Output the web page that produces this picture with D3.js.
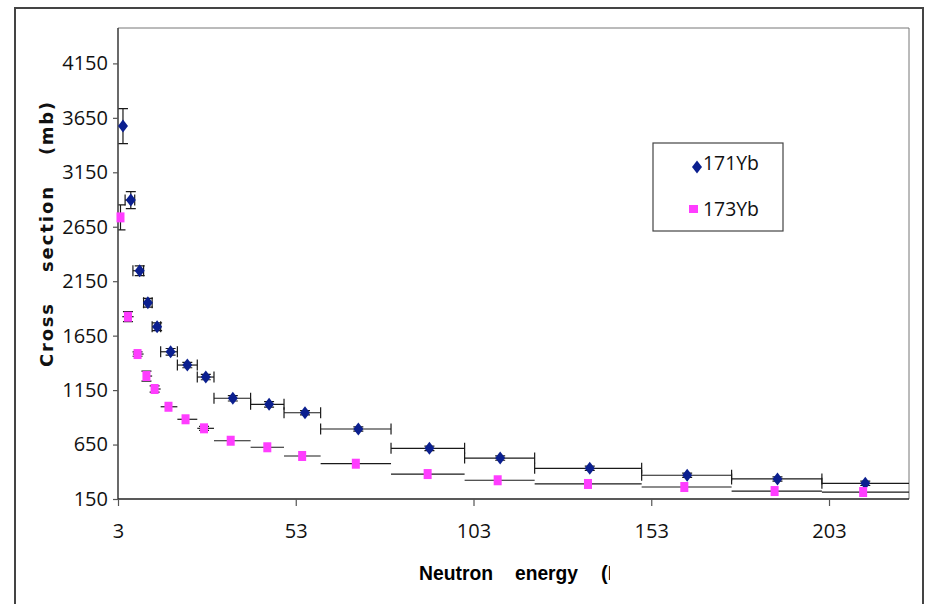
<!DOCTYPE html>
<html>
<head>
<meta charset="utf-8">
<script src="https://cdn.jsdelivr.net/npm/d3@7"></script>
<style>
  body { margin: 0; background: #fff; }
  svg { display: block; }
</style>
</head>
<body>
<script>
// 171Yb: energy (centroid), cross section, error, energy bin edges
const energy171 = [4.4, 6.6, 9.1, 11.4, 14.0, 17.8, 22.5, 27.7, 35.3, 45.5, 55.6, 70.6, 90.6, 110.5, 135.7, 163.1, 188.5, 213.2]
const sigma171 = [3574, 2895, 2246, 1952, 1732, 1502, 1380, 1270, 1075, 1019, 942, 793, 615, 526, 432, 368, 334, 294]
const err171 = [160, 78, 45, 40, 35, 30, 25, 25, 25, 25, 20, 20, 20, 20, 20, 20, 20, 20]
const binLo171 = [null, 5, 7.2, 10.2, 12.6, 15, 19.7, 25.3, 30, 40.3, 49.7, 60, 79.8, 100.5, 120.2, 150.3, 175.6, 201]
const binHi171 = [null, 7.7, 10.2, 12.6, 15, 19.7, 25.3, 30, 40.3, 49.7, 60, 79.8, 100.5, 120.2, 150.3, 175.6, 201, 226]

// 173Yb
const energy173 = [3.7, 5.8, 8.5, 11.0, 13.3, 17.2, 22.0, 27.2, 34.7, 45.0, 54.8, 69.9, 90.1, 109.8, 135.2, 162.3, 187.7, 212.6]
const sigma173 = [2736, 1824, 1481, 1279, 1160, 997, 882, 799, 685, 625, 545, 474, 379, 322, 288, 260, 223, 214]
const err173 = [115, 46, 20, 46, 28, 0, 0, 18, 0, 0, 0, 0, 0, 0, 0, 0, 0, 0]
const binLo173 = [null, 4.2, 7.2, 10.2, 12.6, 15, 19.7, 25.3, 30, 40.3, 49.7, 60, 79.8, 100.5, 120.2, 150.3, 175.6, 201]
const binHi173 = [null, 7.4, 10.2, 12.6, 15, 19.7, 25.3, 30, 40.3, 49.7, 60, 79.8, 100.5, 120.2, 150.3, 175.6, 201, 226]

const xTicks = [3, 53, 103, 153, 203]
const yTicks = [150, 650, 1150, 1650, 2150, 2650, 3150, 3650, 4150]
const seriesNames = ["171Yb", "173Yb"]

var w = 926
var h = 604
var pLeft = 118, pRight = 909, pTop = 28, pBottom = 499

var blue = "#0b1f8f"
var pink = "#ff3dff"

var svg = d3.select("body")
    .append("svg")
    .attr("width", w)
    .attr("height", h)

// outer frame (bottom runs off the picture)
svg.append("rect")
    .attr("x", 15).attr("y", 8)
    .attr("width", 908).attr("height", 640)
    .attr("fill", "none")
    .attr("stroke", "#444")
    .attr("stroke-width", 2)

var xScale = d3.scaleLinear()
    .domain([3, 225.5])
    .range([pLeft, pRight])

var yScale = d3.scaleLinear()
    .domain([150, 4475])
    .range([pBottom, pTop])

// plot area border (top and right)
svg.append("path")
    .attr("d", `M${pLeft},${pTop}H${pRight}V${pBottom}`)
    .attr("fill", "none")
    .attr("stroke", "#777")
    .attr("stroke-width", 1)

svg.append("clipPath").attr("id", "plotclip")
    .append("rect")
    .attr("x", pLeft).attr("y", pTop - 20)
    .attr("width", pRight - pLeft).attr("height", pBottom - pTop + 20)

// build rows
function rows(en, sig, err, lo, hi) {
    return en.map((e, i) => ({ e: e, s: sig[i], err: err[i], lo: lo[i], hi: hi[i] }))
}
var d171 = rows(energy171, sigma171, err171, binLo171, binHi171)
var d173 = rows(energy173, sigma173, err173, binLo173, binHi173)

var bars = svg.append("g")
    .attr("clip-path", "url(#plotclip)")
    .attr("stroke", "#1a1a1a")
    .attr("stroke-width", 1.2)
    .attr("fill", "none")

function drawErrors(data, hcaps) {
    var g = bars.append("g")
    // horizontal bars (energy bins)
    var hb = data.filter(d => d.lo != null)
    g.selectAll(null).data(hb).enter().append("line")
        .attr("x1", d => xScale(d.lo)).attr("x2", d => xScale(d.hi))
        .attr("y1", d => yScale(d.s)).attr("y2", d => yScale(d.s))
    if (hcaps) {
        g.selectAll(null).data(hb).enter().append("path")
            .attr("d", d => {
                var y = yScale(d.s)
                return `M${xScale(d.lo)},${y - 5.5}V${y + 5.5}M${xScale(d.hi)},${y - 5.5}V${y + 5.5}`
            })
    }
    // vertical bars
    var vb = data.filter(d => d.err > 0)
    g.selectAll(null).data(vb).enter().append("path")
        .attr("d", d => {
            var x = xScale(d.e), y1 = yScale(d.s - d.err), y2 = yScale(d.s + d.err)
            return `M${x},${y1}V${y2}M${x - 5},${y1}H${x + 5}M${x - 5},${y2}H${x + 5}`
        })
}
drawErrors(d171, true)
drawErrors(d173, false)

// axes
var yAxis = d3.axisLeft(yScale).tickValues(yTicks).tickFormat(d3.format("d"))
    .tickSize(5).tickSizeOuter(0).tickPadding(5)
var gy = svg.append("g")
    .attr("transform", `translate(${pLeft},0)`)
    .call(yAxis)
gy.select(".domain").attr("d", `M0,${pTop}V${pBottom}`).attr("stroke", "#444").attr("stroke-width", 1.6)

var xAxis = d3.axisBottom(xScale).tickValues(xTicks).tickFormat(d3.format("d"))
    .tickSize(7).tickSizeOuter(0).tickPadding(18)
var gx = svg.append("g")
    .attr("transform", `translate(0,${pBottom})`)
    .call(xAxis)
gx.select(".domain").attr("d", `M${pLeft},0H${pRight}`).attr("stroke", "#222").attr("stroke-width", 1.6)

svg.selectAll(".tick line").attr("stroke", "#555").attr("stroke-width", 1.2)
svg.selectAll(".tick text")
    .attr("font-family", "'Open Sans', 'Liberation Sans', sans-serif")
    .attr("font-size", 20)
    .attr("fill", "#111")

// markers
var diamond = "M0,-6.5L5,0L0,6.5L-5,0Z"
svg.append("g").selectAll("path").data(d171).enter().append("path")
    .attr("d", diamond)
    .attr("transform", d => `translate(${xScale(d.e)},${yScale(d.s)})`)
    .attr("fill", blue)

svg.append("g").selectAll("rect").data(d173).enter().append("rect")
    .attr("x", d => xScale(d.e) - 4)
    .attr("y", d => yScale(d.s) - 5)
    .attr("width", 8).attr("height", 10)
    .attr("fill", pink)

// y title
var ytitle = svg.append("g")
    .attr("font-family", "'DejaVu Sans', Verdana, sans-serif")
    .attr("font-weight", "bold")
    .attr("font-size", 18)
    .attr("fill", "#111")
;[["Cross", 367, 63], ["section", 272, 85], ["(mb)", 155, 53]].forEach(p => {
    ytitle.append("text")
        .attr("transform", `translate(53,${p[1]}) rotate(-90)`)
        .attr("textLength", p[2])
        .attr("lengthAdjust", "spacing")
        .text(p[0])
})

// x title, cut off on the right
svg.append("clipPath").attr("id", "xtclip")
    .append("rect").attr("x", 400).attr("y", 555).attr("width", 210).attr("height", 40)
var xtitle = svg.append("g")
    .attr("clip-path", "url(#xtclip)")
    .attr("font-family", "'Liberation Sans Narrow', 'Liberation Sans', Arial, sans-serif")
    .attr("font-weight", "bold")
    .attr("font-size", 20)
    .attr("fill", "#000")
xtitle.append("text").attr("x", 419).attr("y", 580)
    .attr("textLength", 74).attr("lengthAdjust", "spacingAndGlyphs").text("Neutron")
xtitle.append("text").attr("x", 515).attr("y", 580)
    .attr("textLength", 63).attr("lengthAdjust", "spacingAndGlyphs").text("energy")
xtitle.append("text").attr("x", 601).attr("y", 580).text("(MeV)")

// legend
var legend = svg.append("g")
legend.append("rect")
    .attr("x", 653).attr("y", 143)
    .attr("width", 130).attr("height", 88)
    .attr("fill", "#fff")
    .attr("stroke", "#444")
    .attr("stroke-width", 1.2)
legend.append("path")
    .attr("d", diamond)
    .attr("transform", "translate(697,167)")
    .attr("fill", blue)
legend.append("rect")
    .attr("x", 689).attr("y", 205).attr("width", 9).attr("height", 8)
    .attr("fill", pink)
legend.selectAll("text").data(seriesNames).enter().append("text")
    .attr("x", 703)
    .attr("y", (d, i) => i == 0 ? 170 : 216)
    .attr("font-family", "'Open Sans', 'Liberation Sans', sans-serif")
    .attr("font-size", 20)
    .attr("textLength", 56)
    .attr("lengthAdjust", "spacingAndGlyphs")
    .attr("fill", "#111")
    .text(d => d)
</script>
</body>
</html>
